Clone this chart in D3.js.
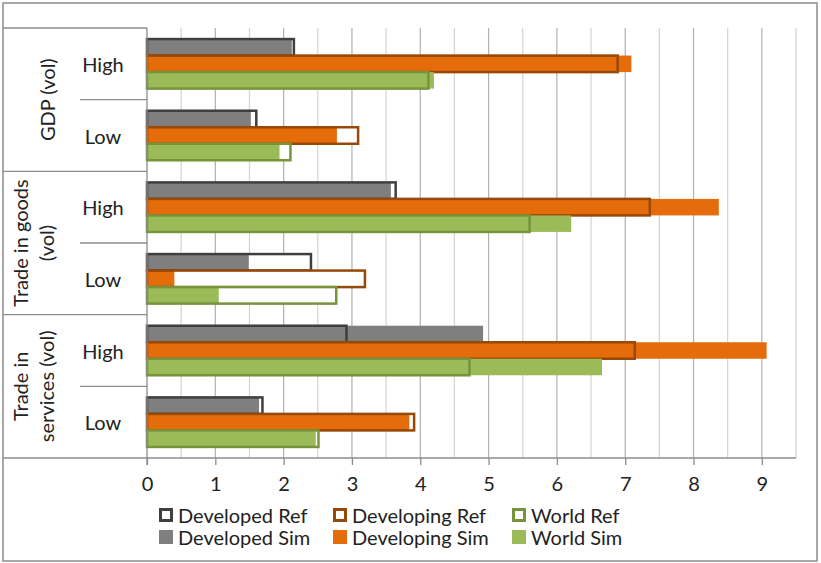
<!DOCTYPE html>
<html>
<head>
<meta charset="utf-8">
<script src="https://cdn.jsdelivr.net/npm/d3@7"></script>
<style>
  html, body { margin: 0; padding: 0; background: #fff; }
  svg { display: block; font-family: Lato, "Open Sans", sans-serif; }
</style>
</head>
<body>
<div id="chart"></div>
<script>
// categories, two levels
const groups = ["GDP (vol)", "Trade in goods (vol)", "Trade in services (vol)"];
const levels = ["High", "Low"];
// series values, one per row (top to bottom)
const developedRef  = [2.15, 1.60, 3.64, 2.40, 2.92, 1.69];
const developedSim  = [2.12, 1.52, 3.57, 1.49, 4.92, 1.64];
const developingRef = [6.89, 3.09, 7.36, 3.19, 7.14, 3.91];
const developingSim = [7.09, 2.78, 8.37, 0.40, 9.07, 3.84];
const worldRef      = [4.12, 2.10, 5.60, 2.77, 4.72, 2.51];
const worldSim      = [4.20, 1.94, 6.21, 1.05, 6.66, 2.47];
// tick labels
const xTicks = [0, 1, 2, 3, 4, 5, 6, 7, 8, 9];

const W = 821, H = 563;
const plotLeft = 147, plotRight = 796, plotTop = 28, plotBottom = 458;
const textColor = "#222";

const series = [
  { name: "Developed",  ref: developedRef,  sim: developedSim,  fill: "#7f7f7f", line: "#3f3f3f" },
  { name: "Developing", ref: developingRef, sim: developingSim, fill: "#e46c0a", line: "#984807" },
  { name: "World",      ref: worldRef,      sim: worldSim,      fill: "#9bbb59", line: "#77933c" }
];

const rows = [];
groups.forEach(g => levels.forEach(l => rows.push(g + "|" + l)));

const svg = d3.select("#chart").append("svg")
  .attr("width", W)
  .attr("height", H);

// outer frame
svg.append("rect")
  .attr("x", 3).attr("y", 3)
  .attr("width", 814).attr("height", 558)
  .attr("fill", "#fff")
  .attr("stroke", "#8c8c8c")
  .attr("stroke-width", 1.5);

const x = d3.scaleLinear().domain([0, 9.5]).range([plotLeft, plotRight]);
const y = d3.scaleBand().domain(rows).range([plotTop, plotBottom]);
const yInner = d3.scaleBand().domain(series.map(s => s.name))
  .range([0, y.bandwidth()]).paddingOuter(0.67).paddingInner(0);

// gridlines: minor at 0.5, major at integers
const grid = svg.append("g");
d3.range(0.5, 9.51, 1).forEach(v => {
  grid.append("line")
    .attr("x1", x(v)).attr("x2", x(v))
    .attr("y1", plotTop).attr("y2", plotBottom)
    .attr("stroke", "#d4d4d4").attr("stroke-width", 1.2);
});
xTicks.slice(1).forEach(v => {
  grid.append("line")
    .attr("x1", x(v)).attr("x2", x(v))
    .attr("y1", plotTop).attr("y2", plotBottom)
    .attr("stroke", "#b0b0b0").attr("stroke-width", 1.2);
});

// bars
series.forEach(s => {
  const g = svg.append("g");
  const by = (i) => y(rows[i]) + yInner(s.name);
  const bh = yInner.bandwidth();
  // ref background (white)
  g.selectAll("rect.refbg").data(s.ref).join("rect")
    .attr("class", "refbg")
    .attr("x", x(0)).attr("y", (d, i) => by(i))
    .attr("width", d => x(d) - x(0)).attr("height", bh)
    .attr("fill", "#fff");
  // sim filled
  g.selectAll("rect.sim").data(s.sim).join("rect")
    .attr("class", "sim")
    .attr("x", x(0)).attr("y", (d, i) => by(i))
    .attr("width", d => x(d) - x(0)).attr("height", bh)
    .attr("fill", s.fill);
  // ref outline on top
  g.selectAll("rect.ref").data(s.ref).join("rect")
    .attr("class", "ref")
    .attr("x", x(0)).attr("y", (d, i) => by(i))
    .attr("width", d => x(d) - x(0)).attr("height", bh)
    .attr("fill", "none")
    .attr("stroke", s.line)
    .attr("stroke-width", 2.5);
});

// x axis
const xAxis = d3.axisBottom(x).tickValues(xTicks).tickSize(7).tickPadding(12).tickFormat(d3.format("d"));
const ax = svg.append("g").attr("transform", `translate(0,${plotBottom})`).call(xAxis);
ax.select(".domain").attr("stroke", "#8c8c8c").attr("stroke-width", 1.3).attr("d", `M${plotLeft},0H${plotRight}`);
ax.selectAll(".tick line").attr("stroke", "#8c8c8c").attr("stroke-width", 1.3);
ax.selectAll(".tick text").attr("font-size", 20).attr("fill", textColor)
  .attr("font-family", "Lato, sans-serif");

// category axis lines
const cat = svg.append("g").attr("stroke", "#8c8c8c").attr("stroke-width", 1.3);
cat.append("line").attr("x1", plotLeft).attr("x2", plotLeft).attr("y1", plotTop).attr("y2", plotBottom + 7);
cat.append("line").attr("x1", 3).attr("x2", plotLeft).attr("y1", plotTop).attr("y2", plotTop);
groups.forEach(g => {
  const yb = y(g + "|" + levels[1]) + y.bandwidth();
  cat.append("line").attr("x1", 3).attr("x2", plotLeft).attr("y1", yb).attr("y2", yb);
  const ym = y(g + "|" + levels[1]);
  cat.append("line").attr("x1", 80).attr("x2", plotLeft).attr("y1", ym).attr("y2", ym);
});

// level labels
rows.forEach(r => {
  svg.append("text")
    .attr("x", 103)
    .attr("y", y(r) + y.bandwidth() / 2)
    .attr("text-anchor", "middle")
    .attr("dominant-baseline", "central")
    .attr("font-size", 20)
    .attr("fill", textColor)
    .text(r.split("|")[1]);
});

// group labels (rotated)
const groupLines = [["GDP (vol)"], ["Trade in goods", "(vol)"], ["Trade in", "services (vol)"]];
groups.forEach((g, gi) => {
  const yc = (y(g + "|" + levels[0]) + y(g + "|" + levels[1]) + y.bandwidth()) / 2;
  const lines = groupLines[gi];
  const xs = lines.length === 1 ? [47] : [20, 46];
  lines.forEach((t, li) => {
    svg.append("text")
      .attr("transform", `translate(${xs[li]},${yc}) rotate(-90)`)
      .attr("text-anchor", "middle")
      .attr("dominant-baseline", "central")
      .attr("font-size", 20)
      .attr("fill", textColor)
      .text(t);
  });
});

// legend
const legendCols = [159, 333, 512];
const legendRows = [515, 537];
series.forEach((s, si) => {
  ["Ref", "Sim"].forEach((k, ki) => {
    const lx = legendCols[si], ly = legendRows[ki];
    if (k === "Ref") {
      svg.append("rect")
        .attr("x", lx + 1.5).attr("y", ly - 5.5)
        .attr("width", 11).attr("height", 11)
        .attr("fill", "#fff").attr("stroke", s.line).attr("stroke-width", 3);
    } else {
      svg.append("rect")
        .attr("x", lx).attr("y", ly - 7)
        .attr("width", 14).attr("height", 14)
        .attr("fill", s.fill);
    }
    svg.append("text")
      .attr("x", lx + 19)
      .attr("y", ly)
      .attr("dominant-baseline", "central")
      .attr("font-size", 20)
      .attr("fill", textColor)
      .text(s.name + " " + k);
  });
});
</script>
</body>
</html>
